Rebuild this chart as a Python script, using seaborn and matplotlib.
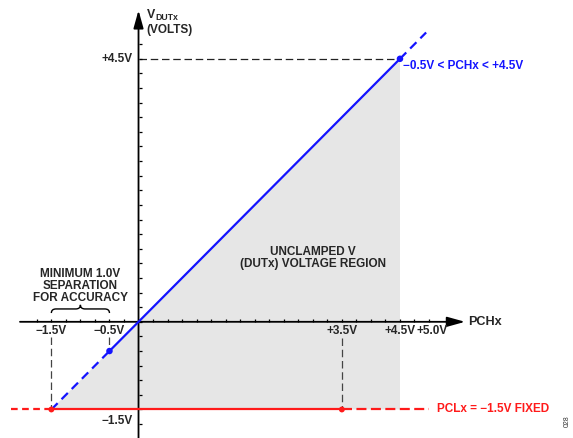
import numpy as np
import matplotlib
matplotlib.use("Agg")
import matplotlib.pyplot as plt
from matplotlib.path import Path
from matplotlib.patches import PathPatch, Polygon
import seaborn as sns

sns.set_theme(style="white")
plt.rcParams['font.family'] = ['Liberation Sans', 'DejaVu Sans']
plt.rcParams['font.weight'] = 'bold'

# ---- data ----
blue_low_x = [-1.5, -0.5]        # dashed segment of V_DUTx = PCHx
blue_mid_x = [-0.5, 4.5]         # solid segment
blue_high_x = [4.5, 4.95]        # dashed segment
blue_dots_x = [-0.5, 4.5]
pclx_level = -1.5
red_left_x = [-2.2, -1.5]
red_mid_x = [-1.5, 3.5]
red_right_x = [3.5, 5.0]
red_dots_x = [-1.5, 3.5]
x_tick_vals = [-1.5, -0.5, 3.5, 4.5, 5.0]
x_tick_labels = ["\u22121.5V", "\u22120.5V", "+3.5V", "+4.5V", "+5.0V"]
y_tick_vals = [4.5, -1.5]
y_tick_labels = ["+4.5V", "\u22121.5V"]

BLUE = "#1414ff"
RED = "#ff1a1a"
GRAY = "#e6e6e6"

fig = plt.figure(figsize=(5.73, 4.38), dpi=100)
ax = fig.add_axes([0, 0, 1, 1])
ax.set_xlim(-2.384, 7.478)
ax.set_ylim(-1.988, 5.506)
ax.axis("off")

# gray unclamped region
ax.add_patch(Polygon([(-1.5, -1.5), (4.5, 4.5), (4.5, -1.5)], closed=True,
                     facecolor=GRAY, edgecolor="none", zorder=0))

# axes with arrows
ax.annotate("", xy=(5.62, 0), xytext=(-2.04, 0),
            arrowprops=dict(arrowstyle="-|>,head_length=0.9,head_width=0.25",
                            color="black", lw=1.3, shrinkA=0, shrinkB=0), zorder=2)
ax.annotate("", xy=(0, 5.33), xytext=(0, -1.99),
            arrowprops=dict(arrowstyle="-|>,head_length=0.9,head_width=0.25",
                            color="black", lw=1.3, shrinkA=0, shrinkB=0), zorder=2)
# minor ticks
xt = np.arange(-1.75, 5.01, 0.25)
ax.vlines(xt, 0, 0.055, color="black", lw=0.9, zorder=2)
yt = np.arange(-1.75, 4.76, 0.25)
ax.hlines(yt, 0, 0.055, color="black", lw=0.9, zorder=2)

# guide dashed lines
ax.plot([0, 4.5], [4.5, 4.5], color="#222222", lw=0.9, linestyle=(0, (6, 3)), zorder=1)
ax.plot([-1.5, -1.5], [-0.26, -1.5], color="#444444", lw=0.9, linestyle=(0, (6, 3)), zorder=1)
ax.plot([-0.5, -0.5], [-0.26, -0.42], color="#444444", lw=0.9, linestyle=(0, (6, 3)), zorder=1)
ax.plot([3.5, 3.5], [-0.28, -1.5], color="#444444", lw=0.9, linestyle=(0, (6, 3)), zorder=1)

# blue line V_DUTx = PCHx
sns.lineplot(x=blue_low_x, y=blue_low_x, ax=ax, color=BLUE, lw=1.6,
             linestyle=(0, (4, 2.5)), zorder=3)
sns.lineplot(x=blue_mid_x, y=blue_mid_x, ax=ax, color=BLUE, lw=1.6, zorder=3)
sns.lineplot(x=blue_high_x, y=blue_high_x, ax=ax, color=BLUE, lw=1.6,
             linestyle=(0, (4, 2.5)), zorder=3)

# red line PCLx fixed
sns.lineplot(x=red_left_x, y=[pclx_level] * 2, ax=ax, color=RED, lw=1.6,
             linestyle=(0, (3, 2)), zorder=3)
sns.lineplot(x=red_mid_x, y=[pclx_level] * 2, ax=ax, color=RED, lw=1.6, zorder=3)
sns.lineplot(x=red_right_x, y=[pclx_level] * 2, ax=ax, color=RED, lw=1.6,
             linestyle=(0, (4.5, 2)), zorder=3)

sns.scatterplot(x=blue_dots_x, y=blue_dots_x, ax=ax, color=BLUE, s=22,
                edgecolor="none", zorder=4)
sns.scatterplot(x=red_dots_x, y=[pclx_level] * 2, ax=ax, color=RED, s=18,
                edgecolor="none", zorder=4)

fs = 8.5
for v, lab in zip(x_tick_vals, x_tick_labels):
    xx = v + (0.05 if v == 5.0 else 0.0)
    ax.text(xx, -0.15, lab, ha="center", va="center", fontsize=fs, fontweight="bold")
for v, lab in zip(y_tick_vals, y_tick_labels):
    yy = v if v > 0 else v - 0.19
    ax.text(-0.095, yy, lab, ha="right", va="center", fontsize=fs, fontweight="bold")

ax.text(5.67, 0.0, "PCHx", ha="left", va="center", fontsize=fs + 0.6, fontweight="bold")
ax.text(0.14, 5.25, "V", ha="left", va="center", fontsize=fs + 0.4, fontweight="bold")
ax.text(0.29, 5.2, "DUTx", ha="left", va="center", fontsize=6.3, fontweight="bold")
ax.text(0.14, 5.0, "(VOLTS)", ha="left", va="center", fontsize=fs, fontweight="bold")

ax.text(4.55, 4.38, "\u22120.5V < PCHx < +4.5V", ha="left", va="center",
        fontsize=fs, fontweight="bold", color=BLUE)
ax.text(5.14, -1.49, "PCLx = \u22121.5V FIXED", ha="left", va="center",
        fontsize=fs, fontweight="bold", color=RED)

ax.text(-1.0, 0.62, "MINIMUM 1.0V\nSEPARATION\nFOR ACCURACY", ha="center", va="center",
        multialignment="center", fontsize=fs, fontweight="bold", linespacing=1.0)
ax.text(3.0, 1.09, "UNCLAMPED V\n(DUTx) VOLTAGE REGION", ha="center", va="center",
        multialignment="center", fontsize=fs, fontweight="bold", linespacing=1.0)

# curly brace
verts = [(-1.5, 0.15), (-1.5, 0.22), (-1.42, 0.22), (-1.08, 0.22), (-1.0, 0.22), (-1.0, 0.29),
         (-1.0, 0.22), (-0.92, 0.22), (-0.58, 0.22), (-0.5, 0.22), (-0.5, 0.15)]
codes = [Path.MOVETO, Path.CURVE3, Path.CURVE3, Path.LINETO, Path.CURVE3, Path.CURVE3,
         Path.CURVE3, Path.CURVE3, Path.LINETO, Path.CURVE3, Path.CURVE3]
ax.add_patch(PathPatch(Path(verts, codes), fill=False, edgecolor="black", lw=1.0, zorder=2))

fig.text(567 / 573, 1 - 421 / 438, "028", rotation=90, ha="center", va="center",
         fontsize=5, fontweight="normal", color="#333333")

fig.savefig("out.png", dpi=100)
